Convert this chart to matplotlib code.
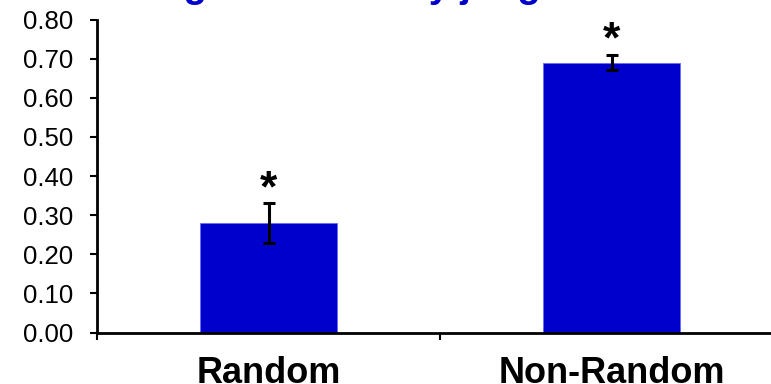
import matplotlib
matplotlib.use("Agg")
import matplotlib.pyplot as plt

categories = ["Random", "Non-Random"]
values = [0.28, 0.69]
errors = [0.05, 0.02]
yticks = [0.0, 0.1, 0.2, 0.3, 0.4, 0.5, 0.6, 0.7, 0.8]
title = "Percentage of accuracy judgments"
marks = ["*", "*"]

W, H = 771, 384
fig = plt.figure(figsize=(W / 100, H / 100), dpi=100)
left, right = 97, 783
top, bottom = 19.5, 332.5
ax = fig.add_axes([left / W, (H - bottom) / H, (right - left) / W, (bottom - top) / H])

blue = "#0000CC"
x = list(range(len(categories)))
ax.bar(x, values, width=0.4, color=blue, edgecolor="#6a6aff", linewidth=0.6, zorder=2)
ax.errorbar(x, values, yerr=errors, fmt="none", ecolor="black", elinewidth=2.2,
            capsize=4.4, capthick=2.2, zorder=3)

for xi, v, e, m in zip(x, values, errors, marks):
    ax.text(xi, v + e + 0.006, m, ha="center", va="baseline", fontsize=32,
            family="Liberation Sans", fontweight="bold", color="black")

ax.set_xlim(-0.5, 1.5)
ax.set_ylim(0, 0.8)
ax.set_yticks(yticks)
ax.set_yticklabels([f"{t:.2f}" for t in yticks], family="Liberation Sans", fontsize=18.5)
ax.tick_params(axis="y", direction="out", length=5, width=1.5, pad=12)

ax.set_xticks(x)
ax.set_xticklabels(categories, family="Liberation Sans", fontweight="bold", fontsize=26)
ax.tick_params(axis="x", which="major", length=0, pad=17)
ax.set_xticks([-0.5, 0.5, 1.5], minor=True)
ax.tick_params(axis="x", which="minor", direction="out", length=5, width=1.5)

for s in ["top", "right"]:
    ax.spines[s].set_visible(False)
for s in ["left", "bottom"]:
    ax.spines[s].set_linewidth(2)

fig.text(23 / W, 1 + 3 / H, title, ha="left", va="baseline", fontsize=27.4,
         family="Liberation Sans", fontweight="bold", color=blue)

fig.savefig("out.png", dpi=100)
